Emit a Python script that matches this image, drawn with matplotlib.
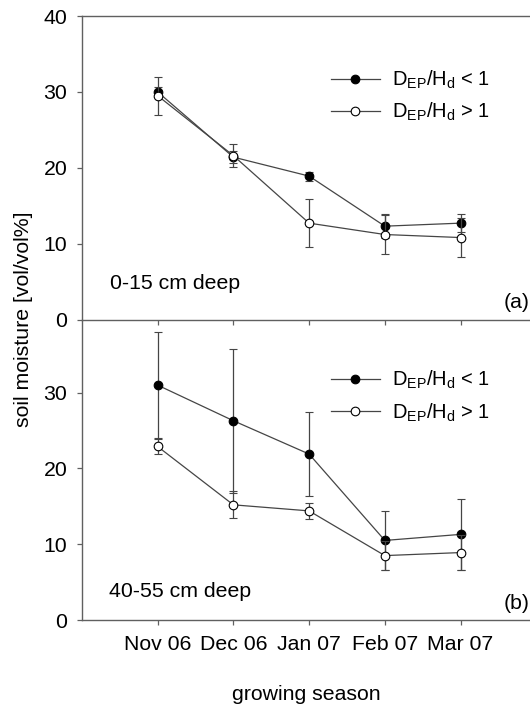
import matplotlib
matplotlib.use("Agg")
import matplotlib.pyplot as plt

plt.rcParams['font.family'] = ['Liberation Sans', 'DejaVu Sans']
plt.rcParams['mathtext.fontset'] = 'custom'
plt.rcParams['mathtext.rm'] = 'Liberation Sans'
plt.rcParams['mathtext.it'] = 'Liberation Sans'

# ---- data ----
months = ["Nov 06", "Dec 06", "Jan 07", "Feb 07", "Mar 07"]
xpos = [1, 2, 3, 4, 5]

# (a) 0-15 cm deep
a_low = [30.0, 21.4, 18.9, 12.3, 12.7]      # DEP/Hd < 1
a_low_err = [0.7, 0.8, 0.6, 1.6, 1.2]
a_high = [29.5, 21.6, 12.7, 11.2, 10.8]     # DEP/Hd > 1
a_high_err = [2.5, 1.5, 3.2, 2.6, 2.6]

# (b) 40-55 cm deep
b_low = [31.0, 26.3, 21.9, 10.5, 11.3]
b_low_err = [7.0, 9.5, 5.6, 3.9, 4.7]
b_high = [22.9, 15.2, 14.4, 8.5, 8.9]
b_high_err = [1.0, 1.8, 1.1, 1.9, 2.3]

label_low = r"$\mathregular{D_{EP}/H_d}$ < 1"
label_high = r"$\mathregular{D_{EP}/H_d}$ > 1"

W, H = 530, 706
fig = plt.figure(figsize=(W / 100, H / 100), dpi=100)

left = 81.85 / W
ax1 = fig.add_axes([left, 1 - 319.5 / H, 1 - left, (319.5 - 16) / H])
ax2 = fig.add_axes([left, 1 - 620 / H, 1 - left, (620 - 319.5) / H])
for ax in (ax1, ax2):
    ax.patch.set_visible(False)
ax1.set_zorder(3)

spine_c = '#606060'
line_c = '#454545'
err_c = '#454545'
FS = 15.3

def draw(ax, low, low_err, high, high_err):
    e1 = ax.errorbar(xpos, low, yerr=low_err, color=line_c, lw=0.9, ecolor=err_c,
                     elinewidth=0.9, capsize=2.8, capthick=0.9, marker='o', ms=6.2,
                     mfc='black', mec='black', mew=0.8, zorder=2)
    e2 = ax.errorbar(xpos, high, yerr=high_err, color=line_c, lw=0.9, ecolor=err_c,
                     elinewidth=0.9, capsize=2.8, capthick=0.9, marker='o', ms=6.2,
                     mfc='white', mec='black', mew=0.8, zorder=3)
    ax.set_xlim(0, (W - 81.85) / 75.75)
    ax.set_xticks(xpos)
    ax.spines['right'].set_visible(False)
    for s in ['left', 'bottom', 'top']:
        ax.spines[s].set_color(spine_c)
        ax.spines[s].set_linewidth(1.0)
    ax.tick_params(axis='both', direction='out', length=3.5, width=0.9,
                   color=spine_c, labelsize=FS)
    ax.tick_params(axis='y', pad=7)
    ax.tick_params(axis='x', pad=7)
    return [e1.lines[0], e2.lines[0]], [label_low, label_high]

h, l = draw(ax1, a_low, a_low_err, a_high, a_high_err)
ax1.set_ylim(0, 40)
ax1.set_yticks([0, 10, 20, 30, 40])
ax1.tick_params(axis='x', labelbottom=False)
ax1.legend(h, l, loc='center left', bbox_to_anchor=(0.555, 0.736),
           frameon=False, fontsize=14.5, handlelength=2.45, handletextpad=0.6,
           labelspacing=0.5, borderpad=0, borderaxespad=0)
ax1.text(0.37, 4.8, "0-15 cm deep", fontsize=FS, va='center', ha='left')
ax1.text(0.999, 0.056, "(a)", fontsize=FS, va='center', ha='right',
         transform=ax1.transAxes)

h, l = draw(ax2, b_low, b_low_err, b_high, b_high_err)
ax2.spines['top'].set_visible(False)
ax2.set_ylim(0, 39.66)
ax2.set_yticks([0, 10, 20, 30])
ax2.set_xticklabels(months)
ax2.legend(h, l, loc='center left', bbox_to_anchor=(0.555, 0.744),
           frameon=False, fontsize=14.5, handlelength=2.45, handletextpad=0.6,
           labelspacing=0.5, borderpad=0, borderaxespad=0)
ax2.text(0.36, 3.7, "40-55 cm deep", fontsize=FS, va='center', ha='left')
ax2.text(0.999, 0.055, "(b)", fontsize=FS, va='center', ha='right',
         transform=ax2.transAxes)

fig.text(24 / W, 1 - 319 / H, "soil moisture [vol/vol%]", rotation=90,
         fontsize=FS, va='center', ha='center')
fig.text((81.85 + W) / 2 / W, 1 - 695 / H, "growing season", fontsize=FS,
         va='center', ha='center')

fig.savefig("out.png", dpi=100)
